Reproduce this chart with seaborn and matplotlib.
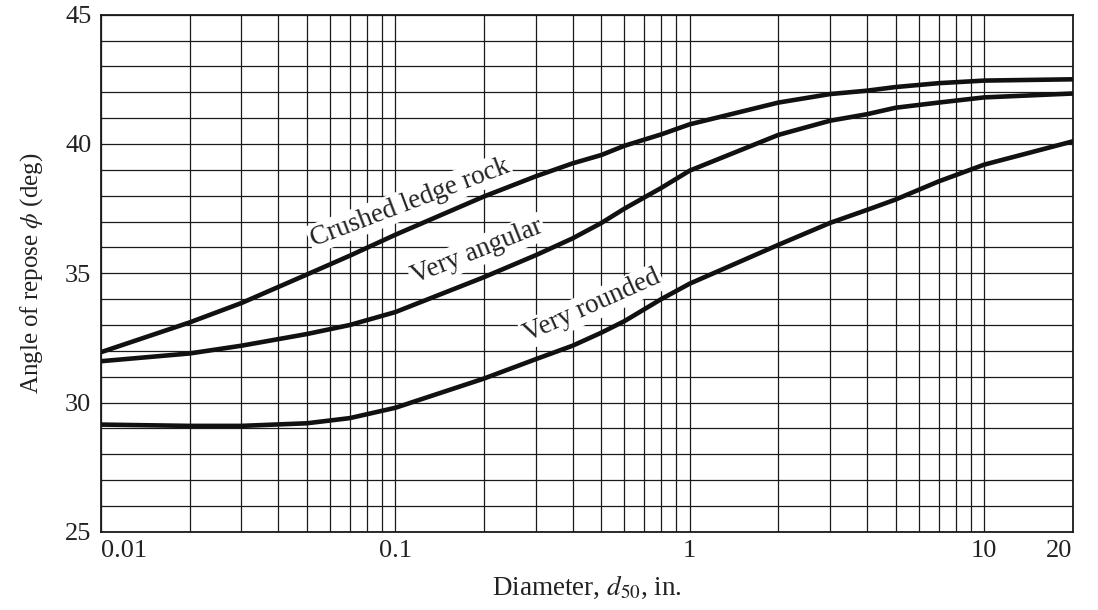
import numpy as np
import pandas as pd
import matplotlib
matplotlib.use("Agg")
import matplotlib.pyplot as plt
import matplotlib.ticker as mticker
import seaborn as sns

# values at the grid lines
diameter = [0.01, 0.02, 0.03, 0.05, 0.07, 0.1, 0.2, 0.3, 0.4, 0.5,
            0.6, 0.8, 1, 2, 3, 4, 5, 7, 10, 20]
crushed = [31.95, 33.1, 33.85, 34.95, 35.68, 36.49, 37.97, 38.75, 39.25, 39.57,
           39.93, 40.37, 40.76, 41.6, 41.93, 42.06, 42.2, 42.35, 42.45, 42.5]
angular = [31.6, 31.9, 32.2, 32.65, 33.0, 33.5, 34.85, 35.7, 36.35, 36.94,
           37.5, 38.3, 38.97, 40.35, 40.9, 41.15, 41.4, 41.6, 41.8, 41.95]
rounded = [29.15, 29.1, 29.1, 29.2, 29.4, 29.8, 30.93, 31.68, 32.2, 32.7,
           33.15, 34.0, 34.6, 36.1, 36.95, 37.45, 37.85, 38.55, 39.2, 40.1]

curve_names = ["Crushed ledge rock", "Very angular", "Very rounded"]
x_ticks = [0.01, 0.1, 1, 10, 20]
x_tick_labels = ["0.01", "0.1", "1", "10", "20"]
y_ticks = [25, 30, 35, 40, 45]

sns.set_theme(style="white")
plt.rcParams["font.family"] = ["Liberation Serif", "DejaVu Serif"]
plt.rcParams["mathtext.fontset"] = "stix"

df = pd.DataFrame({
    "diameter": diameter * 3,
    "angle": crushed + angular + rounded,
    "curve": [n for n in curve_names for _ in diameter],
})

fig = plt.figure(figsize=(10.98, 6.10), dpi=100)
ax = fig.add_axes([0.092, 0.128, 0.885, 0.848])

sns.lineplot(data=df, x="diameter", y="angle", units="curve", estimator=None,
             color="#111111", linewidth=3.3, ax=ax, zorder=4)

ax.set_xscale("log")
ax.set_xlim(0.01, 20)
ax.set_ylim(25, 45)

ax.xaxis.set_major_locator(mticker.FixedLocator(x_ticks))
ax.xaxis.set_major_formatter(mticker.FixedFormatter(x_tick_labels))
ax.xaxis.set_minor_locator(mticker.LogLocator(base=10, subs=np.arange(2, 10)))
ax.xaxis.set_minor_formatter(mticker.NullFormatter())
ax.yaxis.set_major_locator(mticker.FixedLocator(y_ticks))
ax.yaxis.set_minor_locator(mticker.MultipleLocator(1))

ax.grid(which="both", color="#1a1a1a", linewidth=0.9)
ax.set_axisbelow(True)
ax.tick_params(which="both", length=0, labelsize=19, colors="#222222")
ax.tick_params(axis="x", pad=6)
ax.tick_params(axis="y", pad=7)
xt = ax.get_xticklabels()
xt[0].set_horizontalalignment("left")
xt[-1].set_horizontalalignment("right")
for spine in ax.spines.values():
    spine.set_color("#1a1a1a")
    spine.set_linewidth(1.3)

ax.set_xlabel("Diameter, $d_{50}$, in.", fontsize=19.5, color="#222222", labelpad=8)
ax.set_ylabel(r"Angle of repose $\phi$ (deg)", fontsize=18, color="#222222", labelpad=14)

# curve labels (anchored at baseline centre) on white patches over the grid
labels = [("Crushed ledge rock", 0.114, 37.5, 20.8),
          ("Very angular", 0.193, 35.6, 21.8),
          ("Very rounded", 0.475, 33.5, 24.0)]
for text, lx, ly, rot in labels:
    ax.text(lx, ly, text, fontsize=19.5, rotation=rot, rotation_mode="anchor",
            ha="center", va="baseline", color="#222222", zorder=3,
            bbox=dict(facecolor="white", edgecolor="none", pad=1.5))

fig.savefig("out.png", dpi=100)
